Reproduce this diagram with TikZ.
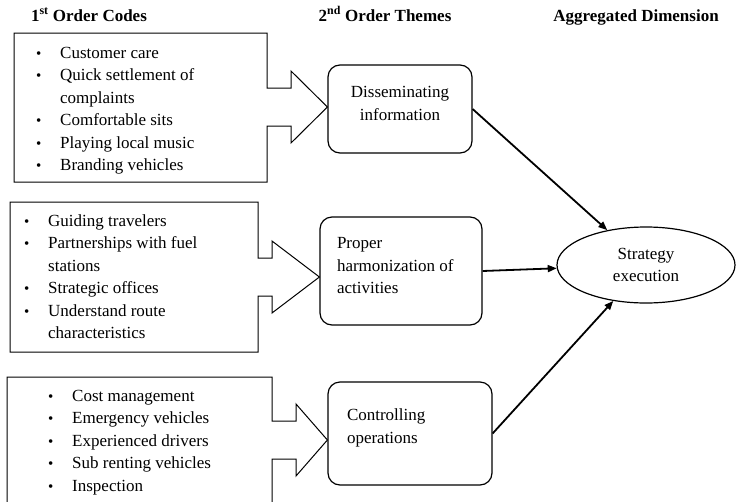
\documentclass[tikz,border=0pt]{standalone}
\usepackage{fontspec}
\setmainfont{Liberation Serif}
\usetikzlibrary{shapes.geometric,arrows.meta}
\tikzset{ hd/.style = { anchor = base % column heading
                      , font = \fontsize{17}{22.5}\selectfont\bfseries
                      }
        , lst/.style = { anchor = base west % list of codes
                       , inner sep = 0pt
                       }
        , thm/.style = { rectangle % 2nd order theme
                       , rounded corners = 12pt
                       , draw
                       , line width = 1.2pt
                       , text height = 0.6pt
                       , inner ysep = 0pt
                       }
        , agg/.style = { ellipse % aggregated dimension
                       , draw
                       , line width = 1.2pt
                       , minimum width = 178pt
                       , minimum height = 76pt
                       , align = center
                       }
        , fr/.style = { line width = 1pt } % frame with block arrow
        , lnk/.style = { line width = 1.8pt % theme to dimension
                       , -{Triangle[length=9pt,width=7pt]}
                       }
        }
\def\bul{\makebox[24pt][l]{\fontsize{15}{15}\selectfont\textbullet}}
\def\codeframe(#1,#2,#3,#4)(#5,#6)#7{% frame: left,top,right,bottom; arrow corner x, tip y; theme
  \draw[fr] (#1,#2) -- (#3,#2) -- (#3,#6-19) -- (#5,#6-19) -- (#5,#6-36)
    -- (#7.west |- #5,#6) -- (#5,#6+36) -- (#5,#6+19) -- (#3,#6+19)
    -- (#3,#4) -- (#1,#4) -- cycle;
}

\begin{document}
\begin{tikzpicture}[x=1pt, y=-1pt, font=\fontsize{17}{22.5}\selectfont]
  \useasboundingbox (0,0) rectangle (736,501);
  \clip (0,0) rectangle (736,501);

  \node[hd] (h1) at ( 89,21) {1\textsuperscript{st} Order Codes};
  \node[hd] (h2) at (385,21) {2\textsuperscript{nd} Order Themes};
  \node[hd] (h3) at (636,21) {Aggregated Dimension};

  \node[thm, minimum width=144pt, minimum height=88pt, text width=124pt, inner xsep=10pt, align=center]
    (t1) at (400,109) {Disseminating\\information};
  \node[thm, minimum width=162pt, minimum height=108pt, text width=128pt, inner xsep=17pt, align=flush left]
    (t2) at (401,271) {Proper\\harmonization of\\activities};
  \node[thm, minimum width=164pt, minimum height=103pt, text width=126pt, inner xsep=19pt, align=flush left]
    (t3) at (410,433.5) {Controlling\\operations};
  \node[agg] (se) at (646,265) {Strategy\\execution};

  \codeframe(14,33,267,182)(291,107){t1}
  \codeframe(10,202,258,352)(272,277){t2}
  \codeframe(7,377,272,510)(296,440){t3}

  \node[lst] (c1) at (36,58) {\begin{tabular}[t]{@{}l@{}}
    \bul Customer care\\
    \bul Quick settlement of\\
    \hspace{24pt}complaints\\
    \bul Comfortable sits\\
    \bul Playing local music\\
    \bul Branding vehicles
  \end{tabular}};
  \node[lst] (c2) at (24,226) {\begin{tabular}[t]{@{}l@{}}
    \bul Guiding travelers\\
    \bul Partnerships with fuel\\
    \hspace{24pt}stations\\
    \bul Strategic offices\\
    \bul Understand route\\
    \hspace{24pt}characteristics
  \end{tabular}};
  \node[lst] (c3) at (48,401) {\begin{tabular}[t]{@{}l@{}}
    \bul Cost management\\
    \bul Emergency vehicles\\
    \bul Experienced drivers\\
    \bul Sub renting vehicles\\
    \bul Inspection
  \end{tabular}};

  \draw[lnk] (t1.east) -- (se);
  \draw[lnk] (t2.east) -- (se);
  \draw[lnk] (t3.east) -- (se);
\end{tikzpicture}
\end{document}
